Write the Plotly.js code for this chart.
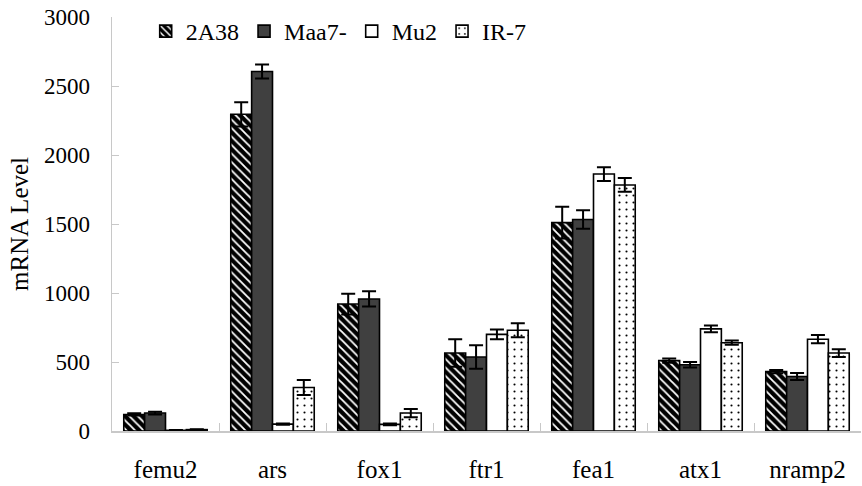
<!DOCTYPE html>
<html><head><meta charset="utf-8">
<script src="https://cdn.plot.ly/plotly-3.0.1.min.js"></script>
<style>html,body{margin:0;padding:0;background:#fff}#chart{width:862px;height:486px}</style>
</head><body><div id="chart"></div>
<script>
const categories = ["femu2","ars","fox1","ftr1","fea1","atx1","nramp2"];
const seriesNames = ["2A38","Maa7-","Mu2","IR-7"];
const v2A38 = [120, 2295, 920, 565, 1510, 510, 430];
const e2A38 = [8, 88, 75, 100, 115, 15, 12];
const vMaa7 = [130, 2605, 957, 536, 1533, 480, 395];
const eMaa7 = [10, 50, 55, 85, 67, 20, 25];
const vMu2 = [5, 50, 48, 700, 1862, 740, 665];
const eMu2 = [3, 5, 6, 35, 50, 25, 30];
const vIR7 = [10, 315, 130, 730, 1783, 640, 565];
const eIR7 = [3, 55, 30, 50, 50, 15, 28];

const FONT = "'Liberation Serif', 'Times New Roman', serif";
const styles = [
  {color:"#000", pattern:{shape:"\\", bgcolor:"#000", fgcolor:"#fff", size:6, solidity:0.3}},
  {color:"#404040"},
  {color:"#fff"},
  {color:"#fff", pattern:{shape:".", bgcolor:"#fff", fgcolor:"#000", size:7, solidity:0.07}}
];
const vals = [v2A38, vMaa7, vMu2, vIR7];
const errs = [e2A38, eMaa7, eMu2, eIR7];
const data = seriesNames.map((n,i)=>{
  const m = {color: styles[i].color, line:{color:"#000", width:1.6}};
  if (styles[i].pattern) m.pattern = Object.assign({fillmode:"replace"}, styles[i].pattern);
  return {
    type:"bar", name:n, x:categories, y:vals[i],
    marker:m,
    error_y:{type:"data", array:errs[i], visible:true, color:"#000", thickness:2, width:7}
  };
});
const layout = {
  width:862, height:486,
  margin:{l:112, r:1, t:17, b:55},
  paper_bgcolor:"#fff", plot_bgcolor:"#fff",
  barmode:"group", bargap:0.22, bargroupgap:0,
  font:{family:FONT, color:"#000", size:22},
  showlegend:true,
  legend:{orientation:"h", x:0.045, y:0.965, xanchor:"left", yanchor:"middle",
    font:{family:FONT, size:24, color:"#000"}, bgcolor:"rgba(0,0,0,0)", itemwidth:30, tracegroupgap:0},
  xaxis:{type:"category", showline:true, linecolor:"#c8c8c8", linewidth:1.5,
    ticks:"inside", tickson:"boundaries", ticklen:8, tickcolor:"#c8c8c8",
    tickfont:{family:FONT, size:25}, ticklabelstandoff:15, showgrid:false, zeroline:false},
  yaxis:{range:[0,3000], dtick:500, tick0:0, showline:true, linecolor:"#c8c8c8", linewidth:1.5,
    ticks:"inside", ticklen:7, tickcolor:"#c8c8c8", showgrid:false, zeroline:false,
    tickfont:{family:FONT, size:23}, ticklabelstandoff:16,
    title:{text:"mRNA Level", font:{family:FONT, size:25}, standoff:8}}
};
Plotly.newPlot("chart", data, layout, {displayModeBar:false, staticPlot:true});
</script></body></html>
